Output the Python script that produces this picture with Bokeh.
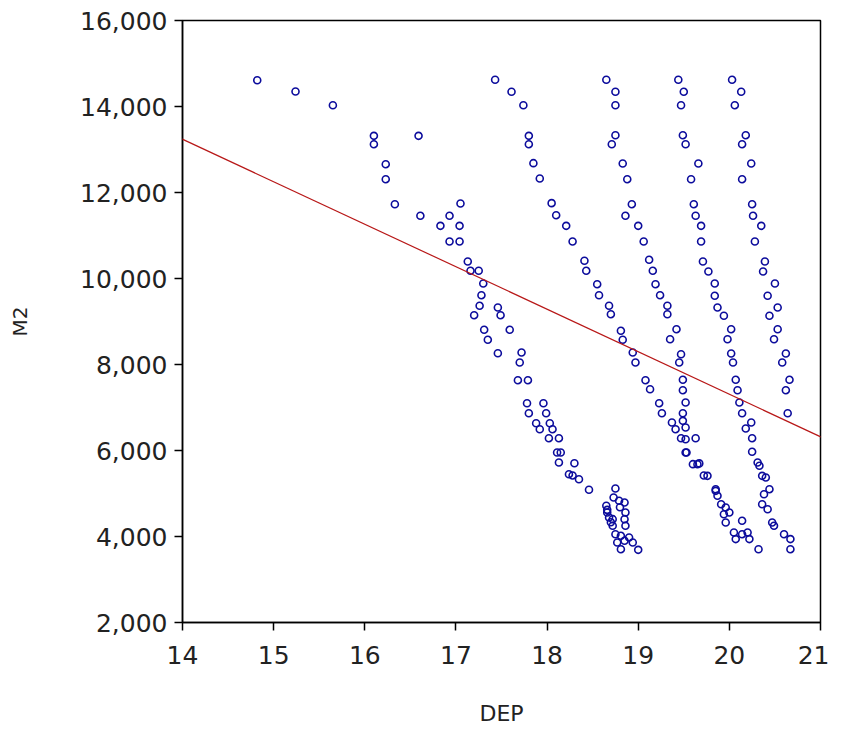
from bokeh.plotting import figure
from bokeh.models import FixedTicker, NumeralTickFormatter, Range1d, Slope
from bokeh.embed import file_html
from bokeh.resources import INLINE

# DEP / M2 pairs, one list per streak of points
dep_a = [14.82, 15.24, 15.65, 16.10, 16.10, 16.59, 16.23, 16.23, 16.33, 16.61,
         17.05, 16.93, 16.83, 17.04, 16.93, 17.04, 17.13, 17.16, 17.25, 17.30,
         17.28, 17.26, 17.20, 17.46, 17.49, 17.31, 17.35, 17.59, 17.46, 17.72,
         17.70, 17.68, 17.79, 17.78, 17.96, 17.80, 17.99, 17.88, 18.03, 17.92,
         18.06, 18.02, 18.13, 18.11, 18.15, 18.13, 18.30, 18.24, 18.35, 18.28,
         18.46, 18.75, 18.73, 18.79, 18.85, 18.65, 18.66, 18.68, 18.72, 18.86,
         18.85, 18.86, 18.72, 18.75, 18.81, 18.90, 18.77, 18.85, 18.94, 18.81,
         19.00, 18.66, 18.80, 18.70]
m2_a = [14612, 14349, 14030, 13318, 13123, 13318, 12658, 12309, 11728, 11458,
        11744, 11458, 11225, 11225, 10860, 10860, 10395, 10179, 10179, 9884,
        9612, 9365, 9147, 9326, 9147, 8807, 8574, 8807, 8263, 8279,
        8047, 7635, 7635, 7100, 7100, 6867, 6867, 6635, 6635, 6495,
        6495, 6286, 6286, 5953, 5953, 5721, 5705, 5449, 5333, 5420,
        5086, 5116, 4907, 4830, 4791, 4714, 4558, 4442, 4403, 4558,
        4403, 4249, 4249, 4054, 4016, 3977, 3860, 3900, 3860, 3705,
        3690, 4620, 4680, 4330]

dep_b = [17.43, 17.61, 17.74, 17.80, 17.80, 17.85, 17.92, 18.05, 18.10, 18.21,
         18.28, 18.41, 18.43, 18.55, 18.57, 18.68, 18.70, 18.81, 18.83, 18.94,
         18.97, 19.08, 19.13, 19.23, 19.26, 19.37, 19.41, 19.47, 19.52, 19.60,
         19.76, 19.85, 19.91, 20.00, 19.96, 20.05, 20.07, 20.32]
m2_b = [14621, 14342, 14030, 13318, 13123, 12682, 12326, 11752, 11472, 11225,
        10860, 10412, 10179, 9868, 9612, 9365, 9170, 8784, 8574, 8279,
        8047, 7635, 7426, 7100, 6867, 6651, 6495, 6286, 5953, 5682,
        5411, 5062, 4751, 4558, 4326, 4093, 3940, 3705]

dep_c = [18.65, 18.75, 18.75, 18.75, 18.71, 18.83, 18.88, 18.93, 18.86, 19.00,
         19.06, 19.12, 19.16, 19.19, 19.24, 19.32, 19.32, 19.42, 19.35, 19.47,
         19.45, 19.49, 19.49, 19.52, 19.49, 19.49, 19.52, 19.63, 19.52, 19.53,
         19.65, 19.67, 19.72, 19.85, 19.87, 19.96, 19.94, 20.14, 20.14, 20.20,
         20.22]
m2_c = [14621, 14342, 14030, 13333, 13123, 12674, 12309, 11728, 11458, 11225,
        10860, 10435, 10179, 9868, 9612, 9365, 9170, 8821, 8588, 8240,
        8047, 7644, 7402, 7116, 6867, 6690, 6535, 6286, 6263, 5953,
        5682, 5700, 5420, 5100, 4946, 4674, 4519, 4365, 4054, 4093,
        3940]

dep_d = [19.44, 19.50, 19.47, 19.49, 19.52, 19.66, 19.58, 19.61, 19.63, 19.69,
         19.69, 19.71, 19.77, 19.84, 19.84, 19.87, 19.94, 20.02, 19.98, 20.02,
         20.04, 20.07, 20.09, 20.11, 20.14, 20.18, 20.24, 20.25, 20.25, 20.31,
         20.33, 20.36, 20.40, 20.44, 20.38, 20.36, 20.42, 20.47, 20.49, 20.60,
         20.67, 20.67]
m2_d = [14621, 14342, 14030, 13333, 13123, 12674, 12309, 11728, 11458, 11225,
        10860, 10395, 10163, 9884, 9598, 9326, 9133, 8821, 8588, 8256,
        8047, 7644, 7402, 7116, 6867, 6512, 6651, 6286, 5970, 5721,
        5644, 5411, 5372, 5100, 4984, 4751, 4635, 4326, 4249, 4054,
        3940, 3705]

dep_e = [20.03, 20.13, 20.06, 20.18, 20.14, 20.24, 20.14, 20.25, 20.26, 20.35,
         20.28, 20.39, 20.37, 20.50, 20.42, 20.53, 20.44, 20.53, 20.49, 20.62,
         20.58, 20.66, 20.62, 20.64]
m2_e = [14621, 14342, 14030, 13333, 13123, 12674, 12309, 11728, 11458, 11225,
        10860, 10395, 10163, 9884, 9598, 9326, 9133, 8821, 8588, 8256,
        8047, 7644, 7402, 6867]

# fitted line
fit_intercept = 27080
fit_slope = -988.6

x_ticks = [14, 15, 16, 17, 18, 19, 20, 21]
y_ticks = [2000, 4000, 6000, 8000, 10000, 12000, 14000, 16000]

p = figure(width=829, height=731, output_backend="svg", toolbar_location=None,
           x_range=Range1d(14, 21), y_range=Range1d(2000, 16000),
           min_border_left=182, min_border_right=9, min_border_top=20,
           min_border_bottom=109)

dep = dep_a + dep_b + dep_c + dep_d + dep_e
m2 = m2_a + m2_b + m2_c + m2_d + m2_e
p.scatter(dep, m2, marker="circle", size=7, fill_color=None,
          line_color="#0c0c9c", line_width=1.6)

p.add_layout(Slope(gradient=fit_slope, y_intercept=fit_intercept,
                   line_color="#b81818", line_width=1.2))

p.grid.visible = False
p.outline_line_color = "black"
p.outline_line_width = 1.5
p.background_fill_color = "white"
p.border_fill_color = "white"

p.xaxis.ticker = FixedTicker(ticks=x_ticks)
p.yaxis.ticker = FixedTicker(ticks=y_ticks)
p.yaxis.formatter = NumeralTickFormatter(format="0,0")
p.xaxis.axis_label = "DEP"
p.yaxis.axis_label = "M2"

for ax in p.xaxis + p.yaxis:
    ax.axis_line_color = "black"
    ax.axis_line_width = 1.5
    ax.major_tick_in = 0
    ax.major_tick_out = 8
    ax.major_tick_line_color = "black"
    ax.major_tick_line_width = 1.5
    ax.minor_tick_line_color = None
    ax.major_label_text_font = "DejaVu Sans"
    ax.major_label_text_font_size = "25px"
    ax.major_label_text_color = "#222222"
    ax.axis_label_text_font = "DejaVu Sans"
    ax.axis_label_text_font_style = "normal"
    ax.axis_label_text_color = "#222222"

p.xaxis.major_label_standoff = 15
p.yaxis.major_label_standoff = 7
p.xaxis.axis_label_text_font_size = "22px"
p.xaxis.axis_label_standoff = 34
p.yaxis.axis_label_text_font_size = "20px"
p.yaxis.axis_label_standoff = 45

open("out.html", "w").write(file_html(p, INLINE))
